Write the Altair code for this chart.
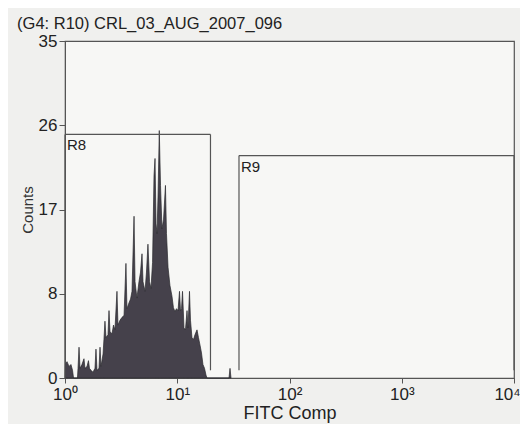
import altair as alt
import pandas as pd

# Histogram: FITC Comp channel in decades (log10) and event counts
log_fitc = [0.0, 0.0045, 0.018, 0.036, 0.053, 0.067, 0.076, 0.111, 0.116, 0.125,
            0.134, 0.151, 0.169, 0.178, 0.196, 0.209, 0.218, 0.232, 0.249, 0.267,
            0.276, 0.285, 0.303, 0.312, 0.321, 0.339, 0.347, 0.356, 0.365, 0.383,
            0.392, 0.401, 0.419, 0.432, 0.445, 0.463, 0.472, 0.490, 0.508, 0.526,
            0.543, 0.552, 0.570, 0.584, 0.597, 0.615, 0.624, 0.641, 0.659, 0.673,
            0.686, 0.695, 0.713, 0.726, 0.739, 0.753, 0.766, 0.780, 0.793, 0.802,
            0.811, 0.820, 0.829, 0.840, 0.851, 0.864, 0.878, 0.895, 0.904, 0.918,
            0.935, 0.953, 0.966, 0.980, 0.993, 1.007, 1.020, 1.029, 1.038, 1.047,
            1.060, 1.073, 1.087, 1.096, 1.109, 1.118, 1.131, 1.145, 1.158, 1.176,
            1.189, 1.203, 1.216, 1.229, 1.243, 1.256, 1.265, 1.461, 1.470, 1.479]
counts = [0.0, 1.5, 1.7, 1.2, 1.4, 0.8, 0.0, 0.0, 1.0, 3.2,
          1.0, 1.4, 2.0, 1.0, 1.2, 1.8, 1.0, 0.8, 0.6, 1.0,
          3.0, 0.8, 1.0, 3.2, 1.2, 2.5, 4.0, 5.9, 4.2, 4.5,
          7.0, 4.8, 4.6, 5.5, 5.0, 9.0, 5.5, 6.0, 6.3, 6.5,
          11.9, 7.2, 7.8, 8.2, 9.0, 16.8, 10.0, 8.3, 10.0, 11.0,
          12.9, 10.0, 9.0, 11.0, 13.9, 10.0, 9.3, 12.0, 21.0, 22.8,
          16.0, 15.0, 19.0, 25.7, 20.0, 15.5, 16.5, 20.0, 15.0, 11.5,
          9.6, 8.5, 7.3, 6.9, 7.2, 7.0, 9.0, 7.0, 7.2, 9.0,
          5.2, 5.0, 7.0, 5.2, 9.0, 6.0, 4.2, 4.0, 4.5, 5.0,
          4.2, 3.4, 2.6, 1.4, 1.0, 0.3, 0.0, 0.0, 1.0, 0.0]

# Gates (regions) in decades / counts
gate_names = ["R8", "R9"]
gate_left = [0.0, 1.55]
gate_right = [1.296, 4.0]
gate_top = [25.3, 23.1]
gate_bottom = [0.0, 0.8]
gate_right_bottom = [0.8, 0.8]

x_ticks = [0, 1, 2, 3, 4]
x_labels = ["10⁰", "10¹", "10²", "10³", "10⁴"]
y_ticks = [0, 8.75, 17.5, 26.25, 35]
y_labels = ["0", "8", "17", "26", "35"]

hist = pd.DataFrame({"decade": log_fitc, "count": counts})
gates = pd.DataFrame({
    "name": gate_names, "left": gate_left, "right": gate_right,
    "top": gate_top, "bottom": gate_bottom, "rbottom": gate_right_bottom,
})

FONT = "Liberation Sans"
x_label_expr = "[" + ",".join(f"'{l}'" for l in x_labels) + "][datum.value]"
y_label_expr = "{" + ",".join(f"'{t}':'{l}'" for t, l in zip(y_ticks, y_labels)) + "}[''+datum.value]"

xscale = alt.Scale(domain=[0, 4], nice=False, zero=False)
yscale = alt.Scale(domain=[0, 35], nice=False)

xaxis = alt.Axis(values=x_ticks, labelExpr=x_label_expr, title="FITC Comp",
                 grid=False, tickSize=5, labelFontSize=17, titleFontSize=18,
                 labelFont=FONT, titleFont=FONT, labelColor="#222", titleColor="#222",
                 titleFontWeight="normal", domainColor="#555", tickColor="#555",
                 labelPadding=3, titlePadding=2, labelOverlap=False, labelFlush=False,
                 labelOffset={"condition": {"test": "datum.value == 4", "value": -7}, "value": 0})
yaxis = alt.Axis(values=y_ticks, labelExpr=y_label_expr, title="Counts",
                 grid=False, tickSize=6, labelFontSize=17, titleFontSize=15,
                 labelFont=FONT, titleFont=FONT, labelColor="#222", titleColor="#333",
                 titleFontWeight="normal", domainColor="#555", tickColor="#555",
                 labelPadding=2, titlePadding=3, labelOverlap=False, labelFlush=False)

area = alt.Chart(hist).mark_area(
    interpolate="linear", color="#45414b", stroke="#2a2a2e", strokeWidth=0.7, opacity=1
).encode(
    x=alt.X("decade:Q", scale=xscale, axis=xaxis),
    y=alt.Y("count:Q", scale=yscale, axis=yaxis),
)

gbase = alt.Chart(gates)
gate_color = "#555"
top_rule = gbase.mark_rule(color=gate_color, strokeWidth=1.2).encode(
    x="left:Q", x2="right:Q", y="top:Q")
left_rule = gbase.mark_rule(color=gate_color, strokeWidth=1.2).encode(
    x="left:Q", y="bottom:Q", y2="top:Q")
right_rule = gbase.mark_rule(color=gate_color, strokeWidth=1.2).encode(
    x="right:Q", y="rbottom:Q", y2="top:Q")
labels = gbase.mark_text(align="left", baseline="top", dx=2, dy=4,
                         fontSize=15, font=FONT, color="#222").encode(
    x="left:Q", y="top:Q", text="name:N")

chart = alt.layer(area, top_rule, left_rule, right_rule, labels).properties(
    width=449, height=337,
    autosize=alt.AutoSizeParams(type="none"),
    padding={"left": 57, "top": 33, "right": 6, "bottom": 46},
    background="#f0f0ee",
    title=alt.TitleParams("(G4: R10) CRL_03_AUG_2007_096", anchor="start",
                          fontSize=16.5, font=FONT, fontWeight="normal",
                          color="#222", offset=0, dx=-3),
).configure_view(
    stroke="#555", strokeWidth=1.2, fill="#f7f7f5"
)

chart.save("out.html", embed_options={"renderer": "svg", "actions": False})
